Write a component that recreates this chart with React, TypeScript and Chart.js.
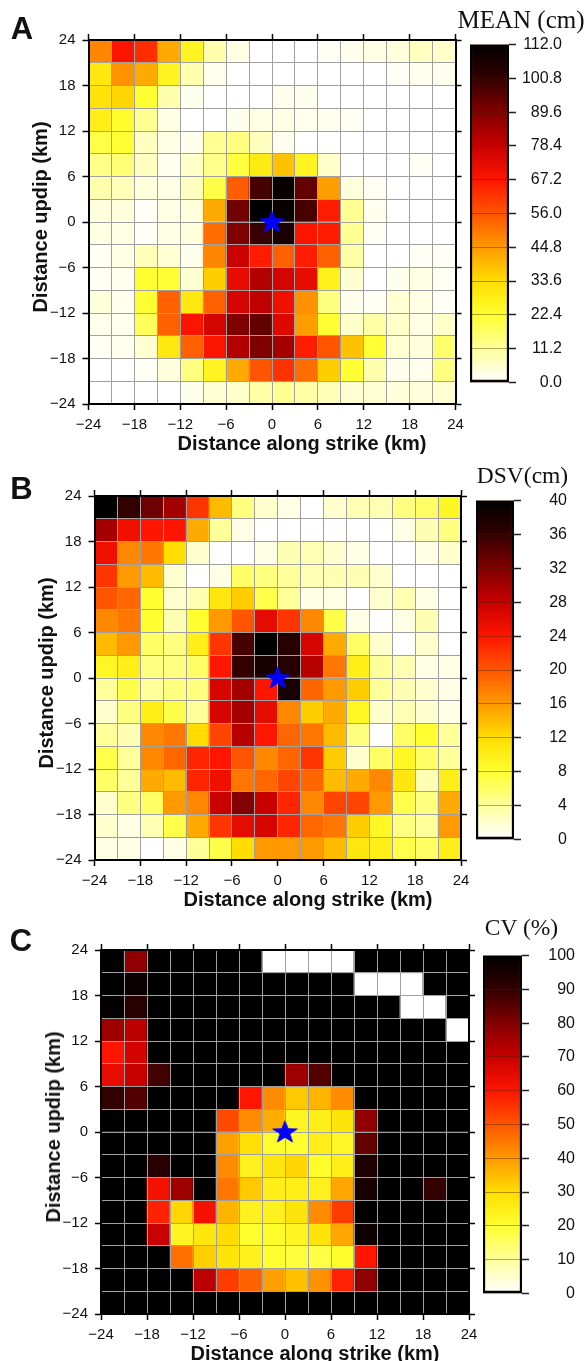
import React, { useEffect, useRef } from "react";
import { Chart, registerables } from "chart.js";

Chart.register(...registerables);

const colCenters = [-22.5, -19.5, -16.5, -13.5, -10.5, -7.5, -4.5, -1.5, 1.5, 4.5, 7.5, 10.5, 13.5, 16.5, 19.5, 22.5];
const rowTops = [24, 21, 18, 15, 12, 9, 6, 3, 0, -3, -6, -9, -12, -15, -18, -21];

const meanValues = [
  [48, 68, 63, 42, 26, 9, 3, 0, 0, 0, 1, 2, 3, 4, 7, 6],
  [30, 46, 42, 26, 9, 2, 0, 0, 0, 0, 0, 0, 0, 1, 2, 2],
  [32, 35, 22, 9, 2, 0, 0, 0, 2, 2, 0, 0, 0, 0, 0, 0],
  [28, 23, 12, 3, 0, 0, 2, 3, 3, 2, 2, 1, 0, 0, 0, 0],
  [20, 22, 7, 3, 2, 12, 14, 7, 2, 0, 0, 0, 0, 0, 0, 0],
  [13, 15, 7, 2, 6, 13, 21, 29, 38, 26, 6, 0, 0, 0, 1, 0],
  [9, 8, 4, 3, 7, 20, 55, 98, 110, 94, 44, 4, 1, 0, 0, 0],
  [4, 4, 1, 3, 4, 42, 92, 112, 110, 98, 66, 12, 2, 0, 0, 0],
  [3, 3, 1, 3, 4, 52, 90, 100, 106, 68, 66, 12, 1, 0, 0, 0],
  [1, 3, 8, 5, 2, 48, 78, 66, 54, 66, 54, 10, 0, 0, 1, 1],
  [1, 2, 22, 22, 5, 36, 72, 82, 76, 72, 27, 5, 0, 2, 3, 1],
  [4, 2, 22, 54, 30, 54, 76, 80, 70, 46, 14, 2, 1, 5, 3, 1],
  [2, 2, 18, 54, 68, 76, 90, 94, 74, 44, 22, 6, 10, 6, 3, 6],
  [1, 2, 5, 30, 54, 68, 82, 90, 84, 66, 56, 38, 22, 5, 4, 16],
  [0, 0, 1, 4, 14, 26, 42, 56, 62, 52, 36, 22, 9, 2, 2, 14],
  [0, 0, 0, 0, 2, 5, 6, 10, 12, 10, 8, 5, 5, 4, 4, 5],
];

const dsvValues = [
  [40, 36, 33, 30, 22, 14, 5, 2, 1, 0, 2, 3, 3, 5, 6, 9],
  [30, 25, 24, 24, 15, 4, 1, 0, 0, 0, 0, 0, 0, 1, 3, 5],
  [25, 17, 18, 12, 2, 0, 0, 1, 3, 3, 2, 1, 0, 0, 1, 2],
  [22, 16, 14, 2, 0, 1, 6, 5, 4, 3, 3, 3, 2, 0, 0, 0],
  [20, 19, 8, 2, 3, 11, 13, 7, 4, 1, 1, 0, 2, 3, 1, 0],
  [17, 18, 8, 3, 8, 16, 20, 26, 22, 17, 7, 1, 0, 1, 3, 0],
  [14, 16, 6, 5, 10, 22, 35, 40, 37, 27, 15, 6, 2, 0, 2, 0],
  [9, 10, 5, 5, 6, 24, 36, 38, 37, 29, 18, 10, 4, 3, 1, 1],
  [4, 7, 4, 5, 5, 27, 30, 24, 38, 19, 16, 13, 4, 3, 2, 1],
  [2, 5, 10, 7, 4, 27, 30, 26, 17, 13, 15, 9, 2, 3, 2, 1],
  [4, 3, 17, 18, 12, 21, 29, 24, 19, 18, 14, 5, 0, 6, 8, 4],
  [7, 4, 17, 19, 23, 24, 20, 17, 19, 22, 13, 2, 6, 9, 6, 4],
  [6, 4, 15, 14, 23, 25, 18, 19, 21, 19, 14, 15, 17, 11, 3, 10],
  [2, 5, 6, 16, 17, 28, 32, 28, 23, 17, 21, 21, 16, 7, 5, 15],
  [2, 1, 3, 7, 15, 22, 26, 27, 23, 19, 18, 13, 9, 5, 4, 16],
  [1, 1, 0, 1, 4, 7, 12, 16, 16, 16, 14, 11, 10, 7, 6, 10],
];

const cvValues = [
  [100, 78, 100, 100, 100, 100, 100, 0, 0, 0, 0, 100, 100, 100, 100, 100],
  [100, 98, 100, 100, 100, 100, 100, 100, 100, 100, 100, 0, 0, 0, 100, 100],
  [99, 92, 100, 100, 100, 100, 100, 100, 100, 100, 100, 100, 100, 0, 0, 100],
  [76, 72, 100, 100, 100, 100, 100, 100, 100, 100, 100, 100, 100, 100, 100, 0],
  [60, 68, 100, 100, 100, 100, 100, 100, 100, 100, 100, 100, 100, 100, 100, 100],
  [64, 70, 88, 100, 100, 100, 100, 100, 76, 86, 100, 100, 100, 100, 100, 100],
  [90, 86, 100, 100, 100, 100, 60, 42, 33, 36, 42, 100, 100, 100, 100, 100],
  [100, 100, 100, 100, 100, 52, 42, 37, 23, 25, 28, 78, 100, 100, 100, 100],
  [100, 100, 100, 100, 100, 39, 29, 21, 20, 25, 22, 84, 100, 100, 100, 100],
  [100, 100, 92, 100, 100, 42, 24, 27, 31, 21, 25, 94, 100, 100, 100, 100],
  [100, 100, 62, 76, 100, 45, 33, 25, 25, 24, 38, 95, 100, 100, 90, 100],
  [100, 100, 58, 31, 62, 36, 24, 24, 28, 42, 54, 100, 100, 100, 100, 100],
  [100, 100, 70, 23, 27, 30, 20, 21, 23, 28, 38, 97, 100, 100, 100, 100],
  [100, 100, 100, 46, 32, 28, 24, 20, 19, 18, 21, 60, 100, 100, 100, 100],
  [100, 100, 100, 100, 72, 54, 48, 39, 34, 41, 58, 78, 100, 100, 100, 100],
  [100, 100, 100, 100, 100, 100, 100, 100, 100, 100, 100, 100, 100, 100, 100, 100],
];

const meanTicks = [0, 11.2, 22.4, 33.6, 44.8, 56, 67.2, 78.4, 89.6, 100.8, 112];
const dsvTicks = [0, 4, 8, 12, 16, 20, 24, 28, 32, 36, 40];
const cvTicks = [0, 10, 20, 30, 40, 50, 60, 70, 80, 90, 100];
const axisTicks = [-24, -21, -18, -15, -12, -9, -6, -3, 0, 3, 6, 9, 12, 15, 18, 21, 24];
const hypocenter = [{ x: 0, y: 0 }];

const ramp: [number, number, number][] = [
  [255, 255, 255], [255, 255, 154], [255, 255, 48], [255, 221, 0], [255, 153, 0], [255, 85, 0],
  [255, 21, 0], [200, 0, 0], [130, 0, 0], [50, 0, 0], [0, 0, 0],
];

function heat(f: number) {
  const p = Math.min(Math.max(f, 0), 1) * (ramp.length - 1);
  const i = Math.min(Math.floor(p), ramp.length - 2);
  const t = p - i;
  const c = ramp[i].map((v, k) => Math.round(v + (ramp[i + 1][k] - v) * t));
  return `rgb(${c[0]},${c[1]},${c[2]})`;
}

function starImage() {
  const c = document.createElement("canvas");
  c.width = 27;
  c.height = 26;
  const g = c.getContext("2d")!;
  g.fillStyle = "#0000ff";
  g.beginPath();
  for (let i = 0; i < 10; i++) {
    const r = i % 2 === 0 ? 13.4 : 5.3;
    const a = -Math.PI / 2 + (i * Math.PI) / 5;
    const x = 13.5 + r * Math.cos(a);
    const y = 13.5 + r * 0.92 * Math.sin(a);
    if (i === 0) g.moveTo(x, y);
    else g.lineTo(x, y);
  }
  g.closePath();
  g.fill();
  return c;
}

const minus = (v: number) => String(v).replace("-", "\u2212");
const FONT = "'Liberation Sans', Arial, sans-serif";

type PanelProps = { rows: number[][]; max: number; ticks: number[]; digits: number; L: number; R: number; T: number; B: number; barL: number; barR: number; barT: number; barB: number; };

function Panel({ rows, max, ticks, digits, L, R, T, B, barL, barR, barT, barB }: PanelProps) {
  const plotRef = useRef<HTMLCanvasElement>(null);
  const barRef = useRef<HTMLCanvasElement>(null);
  const top = T - 20;
  const plotW = Math.round(R + 15);
  const plotH = Math.round(B - top + 40);
  const cbTop = barT - 12;
  const cbH = barB - barT + 24;
  const cbW = barR - barL + 53;

  useEffect(() => {
    const tickOpts = { display: true, autoSkip: false, maxRotation: 0, color: "#111", font: { size: 15, family: FONT } };
    const gridOpts = {
      z: 1,
      color: "#a0a0a0",
      lineWidth: 1,
      tickLength: 6,
      tickWidth: 1.5,
      tickColor: (c: any) => (c.tick && c.tick.value % 6 === 0 ? "#000" : "rgba(0,0,0,0)"),
    };
    const border = { color: "#000", width: 2, z: 2 };
    const label = (v: any) => (Number(v) % 6 === 0 ? minus(Number(v)) : "");
    const setTicks = (s: any) => { s.ticks = axisTicks.map((value) => ({ value })); };
    const side = (position: string, size: string) => ({
      position,
      min: -24,
      max: 24,
      offset: false,
      afterBuildTicks: setTicks,
      afterFit: (s: any) => { s[size] = size === "height" ? 6 : plotW - R; },
      ticks: { display: false },
      border,
      grid: { ...gridOpts, drawOnChartArea: false, offset: false },
    });
    const rowSets = rows.map((row, r) => ({
      type: "bar" as const,
      data: row.map((_, i) => ({ x: colCenters[i], y: [rowTops[r] - 3, rowTops[r]] })),
      backgroundColor: row.map((v) => heat(v / max)),
      borderWidth: 0,
      barPercentage: 1,
      categoryPercentage: 1,
      grouped: false,
      order: 2,
    }));
    const star = {
      type: "scatter" as const,
      data: hypocenter,
      pointStyle: starImage(),
      pointRadius: 13,
      order: 1,
    };
    const plot = new Chart(plotRef.current!, {
      type: "bar",
      data: { datasets: [...rowSets, star] as any },
      plugins: [{
        id: "starOnTop",
        afterDraw: (c: any) => { c.getDatasetMeta(rows.length).data[0].draw(c.ctx); },
      }],
      options: {
        animation: false,
        responsive: false,
        events: [],
        layout: { padding: { left: 0, right: 0, top: 14, bottom: 0 } },
        plugins: { legend: { display: false }, tooltip: { enabled: false } },
        scales: {
          x: {
            type: "linear", position: "bottom", min: -24, max: 24, offset: false,
            afterBuildTicks: setTicks,
            afterFit: (s: any) => { s.height = 40; },
            ticks: { ...tickOpts, padding: 6, callback: label },
            border, grid: { ...gridOpts, offset: false },
          },
          y: {
            type: "linear", position: "left", min: -24, max: 24,
            afterBuildTicks: setTicks,
            afterFit: (s: any) => { s.width = L; },
            ticks: { ...tickOpts, padding: 7, callback: label },
            border, grid: gridOpts,
          },
          x2: { type: "linear", ...side("top", "height") },
          y2: { type: "linear", ...side("right", "width") },
        },
      } as any,
    });

    const bar = new Chart(barRef.current!, {
      type: "bar",
      data: {
        labels: [""],
        datasets: [{
          data: [[0, max]] as any,
          barPercentage: 1,
          categoryPercentage: 1,
          borderColor: "#000",
          borderWidth: 2.5,
          borderSkipped: false,
          backgroundColor: (c: any) => {
            const { chart } = c;
            const sc = chart.scales.y;
            if (!chart.chartArea || !sc) return "#fff";
            const g = chart.ctx.createLinearGradient(0, sc.getPixelForValue(0), 0, sc.getPixelForValue(max));
            ramp.forEach((_, i) => g.addColorStop(i / (ramp.length - 1), heat(i / (ramp.length - 1))));
            return g;
          },
        }],
      },
      options: {
        animation: false,
        responsive: false,
        events: [],
        layout: { padding: { top: 12, bottom: 12, left: 0, right: 0 } },
        plugins: { legend: { display: false }, tooltip: { enabled: false } },
        scales: {
          x: { display: false },
          y: {
            position: "right", min: 0, max,
            afterBuildTicks: (s: any) => { s.ticks = ticks.map((value) => ({ value })); },
            afterFit: (s: any) => { s.width = 53; },
            ticks: {
              autoSkip: false, crossAlign: "far", color: "#111", padding: 4,
              font: { size: 16, family: FONT },
              callback: (v: any) => Number(v).toFixed(digits),
            },
            border: { display: false },
            grid: { z: 1, color: "rgba(70,30,0,0.4)", lineWidth: 1, tickLength: 7, tickWidth: 1.5, tickColor: "#222" },
          },
        },
      } as any,
    });
    return () => { plot.destroy(); bar.destroy(); };
  }, []);

  return (
    <>
      <canvas ref={plotRef} width={plotW} height={plotH} style={{ position: "absolute", left: 0, top, width: plotW, height: plotH }} />
      <canvas ref={barRef} width={cbW} height={cbH} style={{ position: "absolute", left: barL, top: cbTop, width: cbW, height: cbH }} />
    </>
  );
}

function Text({ x, y, size, bold, serif, rotate, children }: any) {
  return (
    <div style={{
      position: "absolute", left: x, top: y, whiteSpace: "nowrap", lineHeight: 1, color: "#111",
      fontSize: size, fontWeight: bold ? 700 : 400,
      fontFamily: serif ? "'Liberation Serif', 'Times New Roman', serif" : FONT,
      transform: `translate(-50%, -50%)${rotate ? " rotate(-90deg)" : ""}`,
    }}>{children}</div>
  );
}

export default function App() {
  return (
    <div style={{ position: "absolute", left: 0, top: 0, width: 585, height: 1361, overflow: "hidden", background: "#fff" }}>
      <Panel rows={meanValues} max={112} ticks={meanTicks} digits={1} L={88.5} R={455.5} T={39.5} B={403} barL={470} barR={509} barT={43} barB={384} />
      <Panel rows={dsvValues} max={40} ticks={dsvTicks} digits={0} L={94.5} R={461} T={496} B={860} barL={476} barR={514} barT={499} barB={841} />
      <Panel rows={cvValues} max={100} ticks={cvTicks} digits={0} L={101} R={469} T={950} B={1314} barL={483} barR={522} barT={954} barB={1295} />

      <Text x={22} y={28} size={31} bold>A</Text>
      <Text x={21.5} y={488} size={31} bold>B</Text>
      <Text x={21} y={940} size={31} bold>C</Text>
      <Text x={521} y={18.5} size={25} serif>MEAN (cm)</Text>
      <Text x={522.5} y={476} size={23.5} serif>DSV(cm)</Text>
      <Text x={521.5} y={928} size={23.5} serif>CV (%)</Text>
      <Text x={302} y={442.5} size={20} bold>Distance along strike (km)</Text>
      <Text x={308} y={899} size={20} bold>Distance along strike (km)</Text>
      <Text x={315} y={1353} size={20} bold>Distance along strike (km)</Text>
      <Text x={40} y={217} size={20} bold rotate>Distance updip (km)</Text>
      <Text x={46} y={673} size={20} bold rotate>Distance updip (km)</Text>
      <Text x={52.5} y={1127} size={20} bold rotate>Distance updip (km)</Text>
    </div>
  );
}
